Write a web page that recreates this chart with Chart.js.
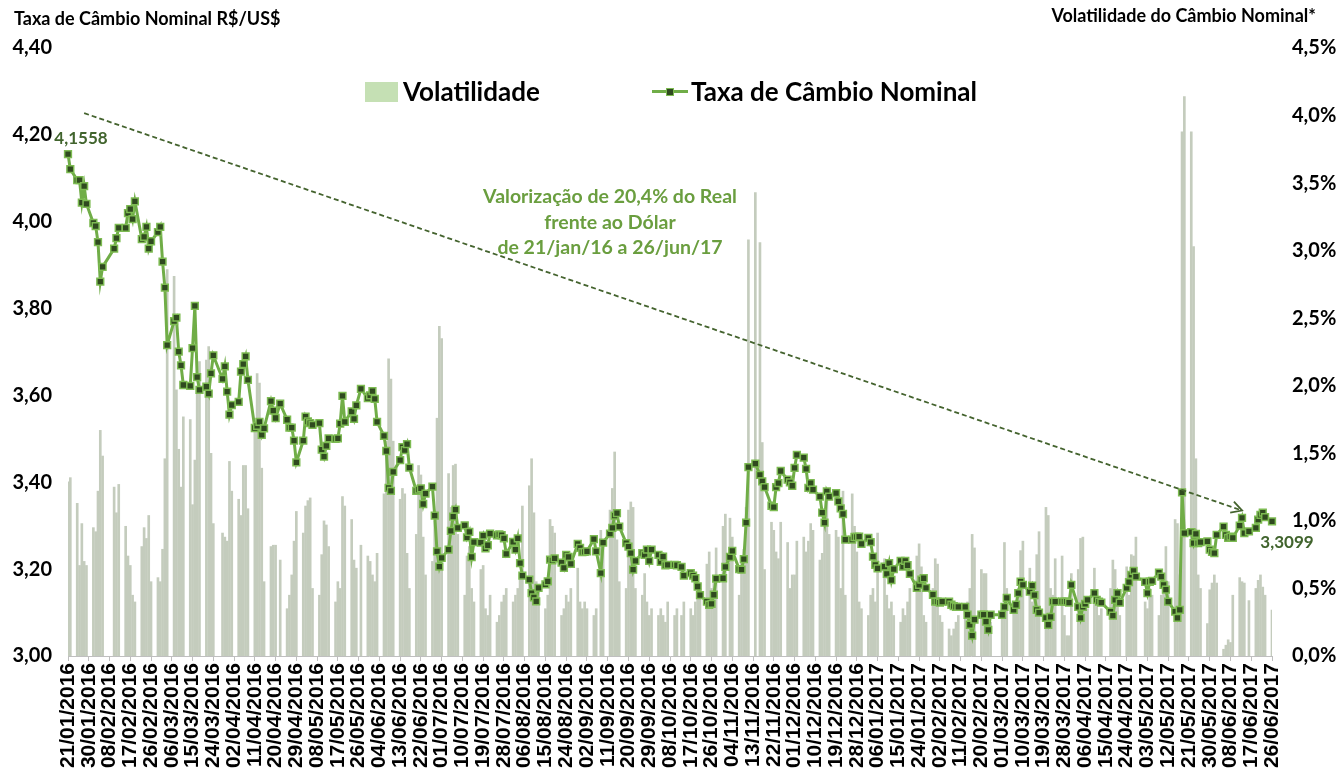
<!DOCTYPE html>
<html lang="pt-BR">
<head>
<meta charset="UTF-8">
<title>Taxa de Câmbio Nominal e Volatilidade</title>
<script src="https://cdn.jsdelivr.net/npm/chart.js@4.4.1/dist/chart.umd.min.js"></script>
<style>
	body { margin: 0; background: #fff; }
	#wrap { position: relative; width: 1336px; height: 777px; font-family: Lato, "Open Sans", sans-serif; font-weight: bold; }
	#grafico { position: absolute; left: 0; top: 0; }
	.txt { position: absolute; white-space: nowrap; line-height: 1; color: #000; }
	#tituloEsq { left: 14px; top: 8.5px; font-size: 18px; }
	#tituloDir { right: 20px; top: 5.5px; font-size: 18px; }
	#caixaVol { position: absolute; left: 365px; top: 82px; width: 33px; height: 20px; background: #c5e0b4; }
	#legVol { left: 403px; top: 78px; font-size: 26px; }
	#linhaTaxa { position: absolute; left: 652px; top: 90px; width: 36px; height: 3px; background: #70ad47; }
	#pontoTaxa { position: absolute; left: 666px; top: 87.5px; width: 8px; height: 8px; box-sizing: border-box; background: #2f4a1f; border: 1.5px solid #7dbb52; }
	#legTaxa { left: 691px; top: 78px; font-size: 26px; }
	#nota { position: absolute; left: 410px; top: 183px; width: 400px; text-align: center; font-size: 19.5px; line-height: 25.5px; color: #6a9e3f; }
</style>
</head>
<body>
<div id="wrap">
	<canvas id="grafico" width="1336" height="777"></canvas>
	<div class="txt" id="tituloEsq">Taxa de Câmbio Nominal R$/US$</div>
	<div class="txt" id="tituloDir">Volatilidade do Câmbio Nominal*</div>
	<div id="caixaVol"></div>
	<div class="txt" id="legVol">Volatilidade</div>
	<div id="linhaTaxa"></div>
	<div id="pontoTaxa"></div>
	<div class="txt" id="legTaxa">Taxa de Câmbio Nominal</div>
	<div id="nota">Valorização de 20,4% do Real<br>frente ao Dólar<br>de 21/jan/16 a 26/jun/17</div>
</div>

<script>
// taxa de câmbio R$/US$, um valor por dia útil de cada mês (null = feriado)
var taxaJan16 = [4.1558, 4.121, 4.096, 4.096, 4.044, 4.082, 4.041];
var taxaFev16 = [3.997, 3.990, 3.953, 3.862, 3.896, null, null, 3.938, 3.962, 3.986, 3.986, 4.020, 4.029, 4.006, 4.047, 3.960, 3.965, 3.988, 3.938, 3.955, 3.976];
var taxaMar16 = [3.988, 3.908, 3.848, 3.716, 3.771, 3.779, 3.701, 3.669, 3.624, 3.622, 3.709, 3.806, 3.642, 3.613, 3.620, 3.604, 3.651, 3.692, null, 3.638, 3.667, 3.609, 3.556];
var taxaAbr16 = [3.578, 3.585, 3.655, 3.672, 3.690, 3.636, 3.525, 3.530, 3.539, 3.509, 3.524, 3.587, 3.565, 3.548, null, 3.581, 3.544, 3.526, 3.526, 3.496, 3.446];
var taxaMai16 = [3.496, 3.551, 3.540, 3.536, 3.532, 3.536, 3.475, 3.459, 3.484, 3.501, 3.500, 3.501, 3.535, 3.599, 3.539, 3.563, 3.546, 3.577, null, 3.615, 3.594, 3.600];
var taxaJun16 = [3.610, 3.592, 3.539, 3.507, 3.472, 3.387, 3.380, 3.424, 3.451, 3.481, 3.474, 3.488, 3.434, 3.380, 3.383, 3.386, 3.350, 3.374, 3.390, 3.323, 3.241, 3.206];
var taxaJul16 = [3.226, 3.245, 3.288, 3.321, 3.337, 3.295, 3.301, 3.273, 3.286, 3.228, 3.262, 3.261, 3.277, 3.248, 3.255, 3.282, 3.278, 3.280, 3.278, 3.271, 3.235];
var taxaAgo16 = [3.263, 3.245, 3.271, 3.214, 3.185, 3.176, 3.145, 3.135, 3.126, 3.157, 3.165, 3.172, 3.222, 3.220, 3.225, 3.215, 3.203, 3.233, 3.228, 3.212, 3.258, 3.249, 3.239];
var taxaSet16 = [3.240, 3.241, 3.269, 3.241, null, 3.191, 3.261, 3.282, 3.295, 3.323, 3.329, 3.298, 3.260, 3.252, 3.237, 3.199, 3.219, 3.237, 3.233, 3.245, 3.219, 3.245];
var taxaOut16 = [3.233, 3.217, 3.229, 3.209, 3.210, 3.210, 3.209, null, 3.205, 3.185, 3.191, 3.185, 3.179, 3.160, 3.140, 3.125, 3.118, 3.120, 3.141, 3.178, 3.179];
var taxaNov16 = [3.205, null, 3.228, 3.242, 3.200, 3.199, 3.223, 3.307, 3.435, 3.443, null, 3.417, 3.402, 3.389, 3.346, 3.343, 3.389, 3.398, 3.426, 3.406, 3.400, 3.392];
var taxaDez16 = [3.433, 3.463, 3.457, 3.431, 3.387, 3.398, 3.383, 3.367, 3.330, 3.307, 3.379, 3.367, 3.375, 3.356, 3.340, 3.327, 3.268, 3.268, 3.274, 3.274, 3.275, 3.258];
var taxaJan17 = [3.272, 3.262, 3.229, 3.210, 3.202, 3.206, 3.189, 3.214, 3.175, 3.200, 3.219, 3.206, 3.219, 3.209, 3.189, 3.157, 3.164, 3.176, 3.179, 3.157, 3.141, 3.125];
var taxaFev17 = [3.125, 3.123, 3.125, 3.125, 3.118, 3.115, 3.113, 3.113, 3.113, 3.095, 3.072, 3.047, 3.084, 3.095, 3.095, 3.079, 3.060, 3.095, null, null];
var taxaMar17 = [3.095, 3.113, 3.134, 3.106, 3.118, 3.145, 3.171, 3.164, 3.148, 3.162, 3.140, 3.106, 3.100, 3.088, 3.072, 3.090, 3.125, 3.125, 3.125, 3.125, 3.125, 3.123, 3.164];
var taxaAbr17 = [3.113, 3.088, 3.113, 3.120, 3.129, 3.145, 3.129, 3.125, 3.123, null, 3.102, 3.093, 3.129, 3.145, 3.123, 3.157, 3.170, 3.187, 3.196, 3.183];
var taxaMai17 = [null, 3.171, 3.145, 3.171, 3.173, 3.192, 3.183, 3.164, 3.153, 3.125, 3.102, 3.088, 3.106, 3.377, 3.283, 3.285, 3.260, 3.281, 3.260, 3.262, 3.264, 3.245, 3.240];
var taxaJun17 = [3.237, 3.279, 3.298, 3.279, 3.272, 3.275, 3.272, 3.300, 3.318, 3.283, null, 3.287, 3.295, 3.314, 3.325, 3.330, 3.320, 3.3099];

// volatilidade do câmbio (%), mesmos dias úteis
var volJan16 = [1.29, 1.32, 1.13, 0.67, 0.98, 0.70, 0.67];
var volFev16 = [0.95, 0.92, 1.22, 1.67, 1.48, null, null, 1.25, 1.06, 1.27, 0.96, 0.74, 0.67, 0.45, 0.40, 0.81, 0.95, 0.87, 1.04, 0.55, 0.58];
var volMar16 = [0.55, 0.79, 1.46, 2.86, 2.81, 1.97, 1.53, 1.25, 1.77, 1.75, 1.12, 1.45, 1.98, 2.18, 2.19, 2.29, 1.50, 0.98, null, 0.91, 0.88, 0.85, 1.44];
var volAbr16 = [1.22, 1.16, 1.04, 1.41, 1.41, 1.09, 1.71, 2.09, 2.02, 1.39, 0.55, 0.81, 0.82, 0.82, null, 0.71, 0.35, 0.45, 0.60, 0.85, 1.07];
var volMai16 = [0.91, 1.11, 1.15, 1.17, 0.50, 0.45, 0.75, 1.00, 0.97, 0.81, 0.40, 0.55, 0.50, 1.18, 1.11, 1.01, 0.71, 0.65, null, 0.82, 0.74, 0.70];
var volJun16 = [0.60, 0.55, 0.76, 1.20, 1.59, 2.20, 2.05, 1.59, 1.16, 1.24, 1.20, 0.76, 0.50, 0.90, 1.41, 1.34, 0.88, 0.60, 0.70, 1.00, 1.76, 2.44];
var volJul16 = [2.35, 1.35, 1.10, 1.41, 1.42, 0.90, 0.45, 0.74, 0.81, 0.50, 0.40, 0.64, 0.67, 0.35, 0.30, 0.45, 0.25, 0.30, 0.40, 0.45, 0.50];
var volAgo16 = [0.40, 0.45, 0.50, 0.60, 1.11, 1.26, 1.46, 1.06, 0.55, 0.50, 0.35, 0.45, 1.01, 0.96, 0.91, 0.30, 0.35, 0.45, 0.40, 0.50, 0.65, 0.40, 0.35];
var volSet16 = [0.40, 0.35, 0.30, 0.35, null, 0.93, 0.86, 1.08, 1.24, 1.51, 0.86, 0.55, 0.50, 1.08, 1.14, 1.10, 0.50, 0.45, 0.61, 0.40, 0.30, 0.35];
var volOut16 = [0.30, 0.35, 0.30, 0.25, 0.40, 0.30, 0.35, null, 0.30, 0.40, 0.35, 0.30, 0.40, 0.45, 0.50, 0.68, 0.77, 0.50, 0.55, 0.80, 0.96];
var volNov16 = [1.05, null, 1.02, 0.88, 0.45, 0.74, 0.79, 1.10, 3.08, 3.43, null, 3.06, 1.58, 0.64, 0.99, 0.93, 0.77, 0.72, 0.99, 0.84, 0.50, 0.60];
var volDez16 = [0.60, 0.85, 0.88, 0.77, 0.85, 0.98, 0.93, 0.71, 0.76, 1.06, 1.18, 0.90, 0.93, 0.88, 0.50, 1.22, 0.45, 1.20, 0.96, 0.77, 0.40, 0.35];
var volJan17 = [0.30, 0.45, 0.50, 0.40, 0.91, 0.72, 0.45, 0.35, 0.40, 0.30, 0.25, 0.35, 0.30, 0.40, 0.50, 0.74, 0.83, 0.66, 0.30, 0.25, 0.50, 0.72];
var volFev17 = [0.68, 0.30, 0.25, 0.20, 0.15, 0.20, 0.25, 0.30, 0.35, 0.40, 0.50, 0.90, 0.80, 0.64, 0.61, 0.61, 0.30, 0.25, null, null];
var volMar17 = [0.30, 0.84, 0.50, 0.35, 0.40, 0.50, 0.78, 0.85, 0.65, 0.40, 0.50, 0.75, 0.92, 1.10, 1.04, 0.50, 0.45, 0.72, 0.74, 0.30, 0.15, 0.15, 0.61];
var volAbr17 = [0.64, 0.87, 0.88, 0.40, 0.35, 0.65, 0.40, 0.30, 0.35, null, 0.50, 0.71, 0.64, 0.40, 0.30, 0.66, 0.45, 0.75, 0.74, 0.88];
var volMai17 = [null, 0.40, 0.35, 0.50, 0.45, 0.30, 0.45, 0.50, 0.81, 0.55, 1.01, 0.98, 0.60, 3.88, 4.14, 3.88, 3.03, 1.46, 0.60, 0.50, 0.24, 0.49, 0.54];
var volJun17 = [0.60, 0.54, 0.05, 0.08, 0.12, 0.10, 0.45, 0.58, 0.55, 0.54, null, 0.41, 0.50, 0.56, 0.60, 0.51, 0.45, 0.34];

// período do eixo (dias corridos) e rótulo a cada 9 dias
var dataInicio = new Date(2016, 0, 21, 12);
var dataFim = new Date(2017, 5, 26, 12);
var passoRotulo = 9;

// seta tracejada: [data, valor]
var setaDe = ['28/01/2016', 4.25];
var setaAte = ['13/06/2017', 3.335];

var taxa = [].concat(taxaJan16, taxaFev16, taxaMar16, taxaAbr16, taxaMai16, taxaJun16, taxaJul16, taxaAgo16,
	taxaSet16, taxaOut16, taxaNov16, taxaDez16, taxaJan17, taxaFev17, taxaMar17, taxaAbr17, taxaMai17, taxaJun17);
var volatilidade = [].concat(volJan16, volFev16, volMar16, volAbr16, volMai16, volJun16, volJul16, volAgo16,
	volSet16, volOut16, volNov16, volDez16, volJan17, volFev17, volMar17, volAbr17, volMai17, volJun17);

function dois(n) { return (n < 10 ? '0' : '') + n; }
function formataData(d) { return dois(d.getDate()) + '/' + dois(d.getMonth() + 1) + '/' + d.getFullYear(); }

var datas = [], serieTaxa = [], serieVol = [];
var k = 0;
for (var d = new Date(dataInicio); d <= dataFim; d.setDate(d.getDate() + 1)) {
	datas.push(formataData(d));
	var util = d.getDay() > 0 && d.getDay() < 6;
	serieTaxa.push(util ? taxa[k] : null);
	serieVol.push(util ? volatilidade[k] : null);
	if (util) k++;
}

function virgula(v, casas) { return v.toFixed(casas).replace('.', ','); }

var extras = {
	id: 'extras',
	afterDatasetsDraw: function(chart) {
		var ctx = chart.ctx, x = chart.scales.x, y = chart.scales.y;

		// seta tracejada
		var x0 = x.getPixelForValue(datas.indexOf(setaDe[0])), y0 = y.getPixelForValue(setaDe[1]);
		var x1 = x.getPixelForValue(datas.indexOf(setaAte[0])), y1 = y.getPixelForValue(setaAte[1]);
		ctx.save();
		ctx.strokeStyle = '#44632e';
		ctx.lineWidth = 1.8;
		ctx.setLineDash([5, 3]);
		ctx.beginPath();
		ctx.moveTo(x0, y0);
		ctx.lineTo(x1, y1);
		ctx.stroke();
		ctx.setLineDash([]);
		var ang = Math.atan2(y1 - y0, x1 - x0), a = 0.5, len = 12;
		ctx.beginPath();
		ctx.moveTo(x1 - len * Math.cos(ang - a), y1 - len * Math.sin(ang - a));
		ctx.lineTo(x1, y1);
		ctx.lineTo(x1 - len * Math.cos(ang + a), y1 - len * Math.sin(ang + a));
		ctx.stroke();
		ctx.restore();

		// rótulos do primeiro e do último ponto
		var meta = chart.getDatasetMeta(0);
		var i0 = serieTaxa.findIndex(function(v) { return v !== null; });
		var i1 = serieTaxa.length - 1;
		while (serieTaxa[i1] === null) i1--;
		var p0 = meta.data[i0], p1 = meta.data[i1];
		ctx.save();
		ctx.font = 'bold 17px Lato';
		ctx.fillStyle = '#41642d';
		ctx.textAlign = 'center';
		ctx.textBaseline = 'middle';
		ctx.fillText(virgula(serieTaxa[i0], 4), p0.x + 13, p0.y - 16);
		ctx.fillText(virgula(serieTaxa[i1], 4), p1.x + 15, p1.y + 21);
		ctx.restore();
	}
};

var ctx = document.getElementById('grafico').getContext('2d');
var chart = new Chart(ctx, {
	type: 'bar',
	data: {
		labels: datas,
		datasets: [{
			type: 'line',
			label: 'Taxa de Câmbio Nominal',
			data: serieTaxa,
			yAxisID: 'y',
			borderColor: '#70ad47',
			borderWidth: 3,
			tension: 0,
			spanGaps: true,
			pointStyle: 'rect',
			pointRadius: 4.8,
			pointBackgroundColor: '#2f4a1f',
			pointBorderColor: '#7dbb52',
			pointBorderWidth: 1.5,
			order: 0
		}, {
			type: 'bar',
			label: 'Volatilidade',
			data: serieVol,
			yAxisID: 'y1',
			backgroundColor: '#c4ccbd',
			borderWidth: 0,
			barThickness: 2,
			order: 1
		}]
	},
	options: {
		responsive: false,
		animation: false,
		devicePixelRatio: 1,
		layout: { padding: { top: 48, left: 0, right: 0, bottom: 0 } },
		plugins: { legend: { display: false }, tooltip: { enabled: false } },
		scales: {
			x: {
				offset: false,
				grid: {
					offset: false,
					drawOnChartArea: false,
					drawTicks: true,
					tickLength: 5,
					color: function(c) { return c.index % passoRotulo === 0 ? '#bfbfbf' : 'rgba(0,0,0,0)'; }
				},
				border: { display: true, color: '#bfbfbf', width: 1 },
				ticks: {
					autoSkip: false,
					minRotation: 90,
					maxRotation: 90,
					padding: 2,
					color: '#000',
					font: { family: 'Liberation Sans', size: 21, weight: 'bold' },
					callback: function(v, i) { return i % passoRotulo === 0 ? datas[i] : ''; }
				},
				afterFit: function(s) { s.height = 121; }
			},
			y: {
				position: 'left',
				min: 3.0,
				max: 4.4,
				grid: { display: false, drawTicks: false },
				border: { display: false },
				ticks: {
					stepSize: 0.2,
					padding: 16,
					color: '#000',
					font: { family: 'Lato', size: 20, weight: 'bold' },
					callback: function(v) { return virgula(v, 2); }
				},
				afterFit: function(s) { s.width = 68; }
			},
			y1: {
				position: 'right',
				min: 0,
				max: 4.5,
				grid: { display: false, drawTicks: false },
				border: { display: false },
				ticks: {
					stepSize: 0.5,
					padding: 20,
					color: '#000',
					font: { family: 'Lato', size: 20, weight: 'bold' },
					callback: function(v) { return virgula(v, 1) + '%'; }
				},
				afterFit: function(s) { s.width = 64; }
			}
		}
	},
	plugins: [extras]
});
</script>
</body>
</html>
